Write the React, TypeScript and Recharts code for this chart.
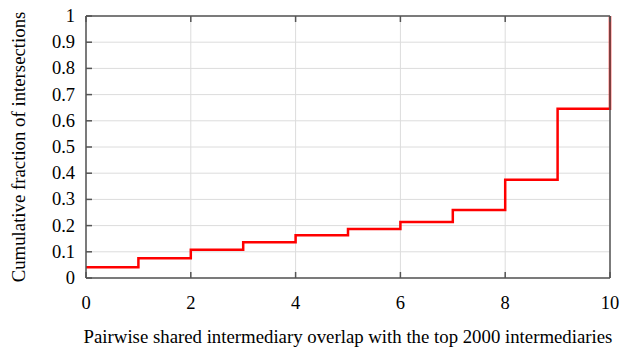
import React from 'react';
import { LineChart, Line, XAxis, YAxis, CartesianGrid } from 'recharts';

const overlap = [0, 1, 2, 3, 4, 5, 6, 7, 8, 9, 10];
const cumulative = [0.041, 0.075, 0.108, 0.136, 0.163, 0.187, 0.214, 0.26, 0.375, 0.646, 1.0];
const xTicks = [0, 2, 4, 6, 8, 10];
const yTicks = [0, 0.1, 0.2, 0.3, 0.4, 0.5, 0.6, 0.7, 0.8, 0.9, 1];

const data = overlap.map((x, i) => ({ x, y: cumulative[i] }));

const axisColor = '#555';
const font = '"Liberation Serif", "Times New Roman", serif';

const renderXTick = (p: any) => (
  <text
    key={`xt-${p.index}`}
    x={p.x}
    y={p.y + 13}
    textAnchor="middle"
    fill="#000"
    fontFamily="Liberation Serif"
    fontSize={18.5}
  >
    {p.payload.value}
  </text>
);

const renderYTick = (p: any) => (
  <text
    key={`yt-${p.index}`}
    x={p.x}
    y={p.y + 6}
    textAnchor="end"
    fill="#000"
    fontFamily="Liberation Serif"
    fontSize={18.5}
  >
    {p.payload.value}
  </text>
);

const XTitle = ({ viewBox }: any) => (
  <text
    x={viewBox.x + viewBox.width / 2}
    y={viewBox.y + 65}
    textAnchor="middle"
    fill="#000"
    fontFamily="Liberation Serif"
    fontSize={18.8}
  >
    Pairwise shared intermediary overlap with the top 2000 intermediaries
  </text>
);

const YTitle = ({ viewBox }: any) => {
  const cx = viewBox.x + 25;
  const cy = viewBox.y + viewBox.height / 2;
  return (
    <text
      x={cx}
      y={cy}
      transform={`rotate(-90, ${cx}, ${cy})`}
      textAnchor="middle"
      fill="#000"
      fontFamily="Liberation Serif"
      fontSize={18.8}
    >
      Cumulative fraction of intersections
    </text>
  );
};

export default function App() {
  return (
    <div style={{ position: 'absolute', left: 0, top: 0, width: 640, height: 356, background: '#fff', fontFamily: font }}>
      <LineChart width={640} height={356} data={data} margin={{ top: 0, right: 0, bottom: 0, left: 0 }}>
        <CartesianGrid stroke="#dcdcdc" strokeWidth={1} />
        <XAxis
          dataKey="x"
          type="number"
          domain={[0, 10]}
          ticks={xTicks}
          interval={0}
          height={78}
          tickSize={-6}
          tickMargin={24}
          stroke={axisColor}
          strokeWidth={1.5}
          tick={renderXTick}
          label={<XTitle />}
        />
        <XAxis
          xAxisId="top"
          orientation="top"
          dataKey="x"
          type="number"
          domain={[0, 10]}
          ticks={xTicks}
          interval={0}
          height={16}
          tickSize={-6}
          tickFormatter={() => ''}
          stroke={axisColor}
          strokeWidth={1.5}
        />
        <YAxis
          type="number"
          domain={[0, 1]}
          ticks={yTicks}
          interval={0}
          width={86}
          tickSize={-6}
          tickMargin={17}
          stroke={axisColor}
          strokeWidth={1.5}
          tick={renderYTick}
          label={<YTitle />}
        />
        <YAxis
          yAxisId="right"
          orientation="right"
          type="number"
          domain={[0, 1]}
          ticks={yTicks}
          interval={0}
          width={30}
          tickSize={-6}
          tickFormatter={() => ''}
          stroke={axisColor}
          strokeWidth={1.5}
        />
        <Line
          type="stepAfter"
          dataKey="y"
          stroke="#ff0000"
          strokeWidth={2.5}
          dot={false}
          isAnimationActive={false}
        />
      </LineChart>
    </div>
  );
}
